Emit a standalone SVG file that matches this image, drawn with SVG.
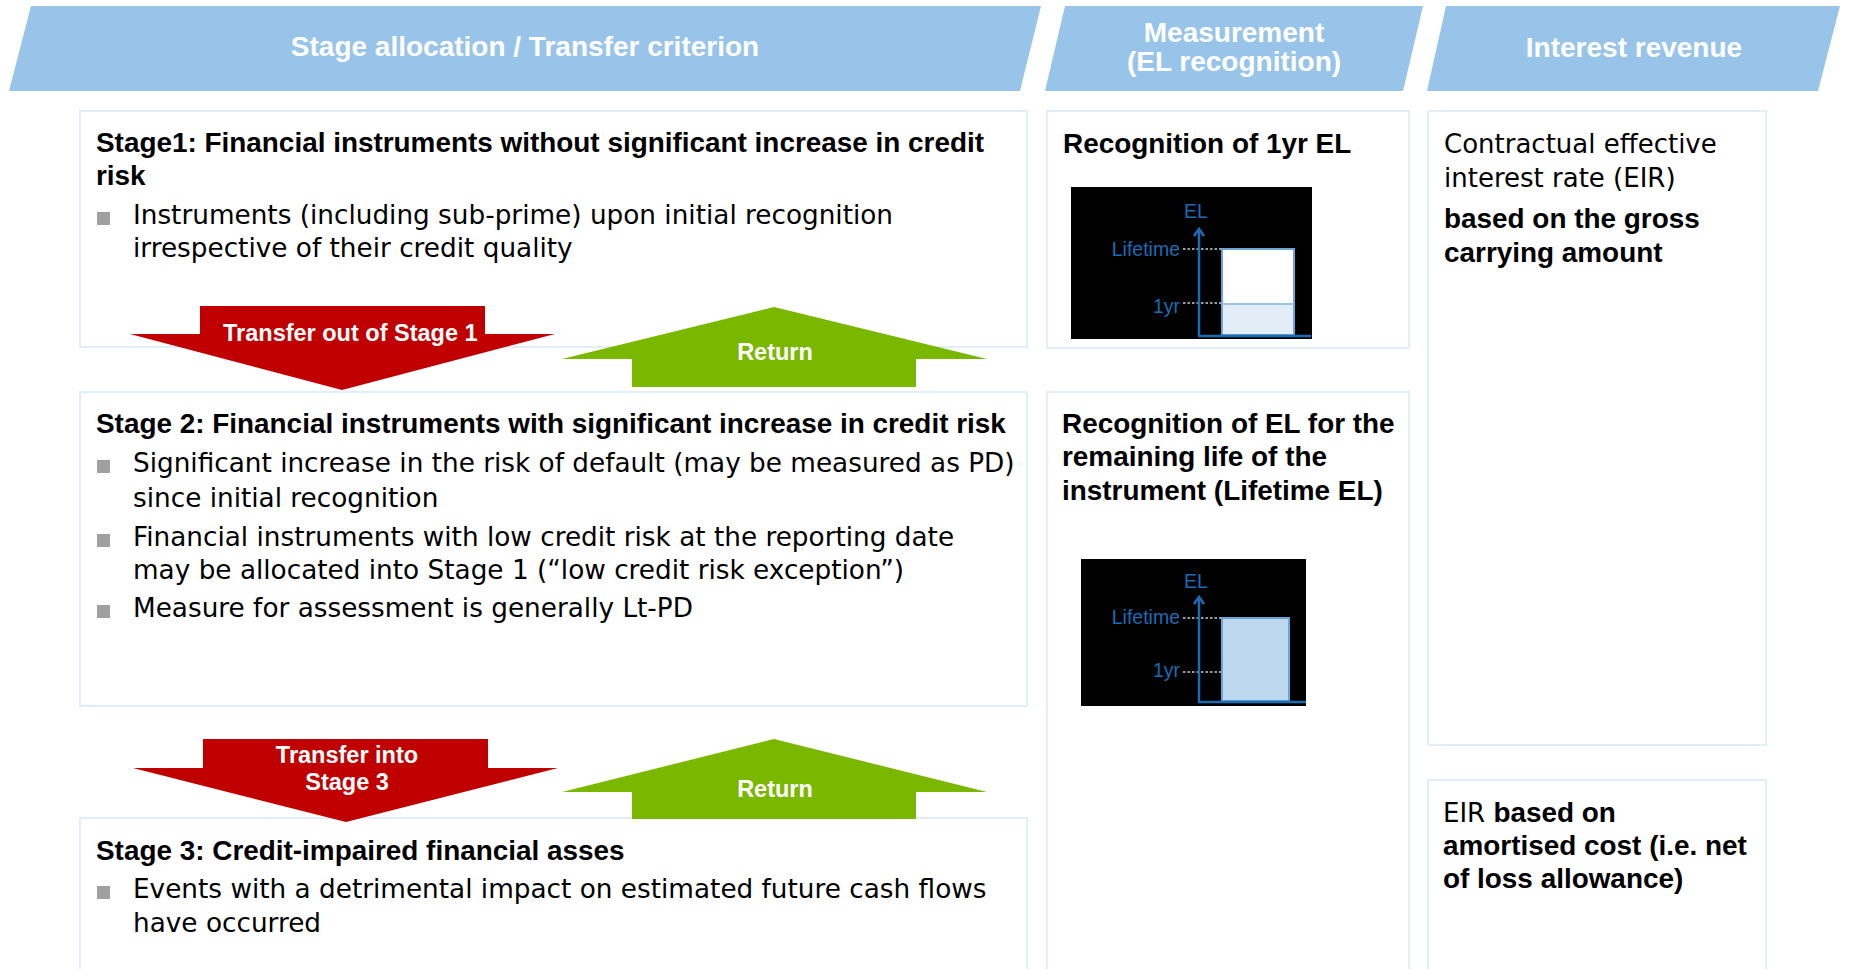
<svg xmlns="http://www.w3.org/2000/svg" width="1849" height="969" viewBox="0 0 1849 969">
<style>
.band{fill:#98C4E9}
.htxt{font-family:"Liberation Sans",Arial,sans-serif;font-weight:bold;font-size:28px;fill:#fff}
.box{fill:#fff;stroke:#E2EDF8;stroke-width:2}
.b{font-family:"Liberation Sans",Arial,sans-serif;font-weight:bold;font-size:27.9px;fill:#000}
.r{font-family:"DejaVu Sans",sans-serif;font-size:26.3px;fill:#000}
.r2{font-family:"DejaVu Sans",sans-serif;font-size:26px;fill:#000}
.bul{fill:#A0A0A0}
.red{fill:#C00000}
.green{fill:#7AB800}
.atxt{font-family:"Liberation Sans",Arial,sans-serif;font-weight:bold;font-size:23.5px;fill:#fff}
.chbg{fill:#000}
.ax{stroke:#1A6DB5;stroke-width:2.5;fill:none}
.ctxt{font-family:"Liberation Sans",Arial,sans-serif;font-size:19.5px;fill:#1A6DB5}
.dash{stroke:#C8D0D8;stroke-width:1.5;stroke-dasharray:2.5 2}
.bar{stroke:#6CA6D9;stroke-width:2}
</style>
<g id="headers">
<g id="header-stage">
<polygon class="band" points="31,6 1041,6 1020,91 9,91"/>
<text class="htxt" x="525" y="56" text-anchor="middle">Stage allocation / Transfer criterion</text>
</g>
<g id="header-measurement">
<polygon class="band" points="1065,6 1423,6 1403,91 1045,91"/>
<text class="htxt" x="1234" y="42" text-anchor="middle">Measurement</text>
<text class="htxt" x="1234" y="71" text-anchor="middle">(EL recognition)</text>
</g>
<g id="header-interest">
<polygon class="band" points="1446,6 1840,6 1818,91 1427,91"/>
<text class="htxt" x="1634" y="57" text-anchor="middle">Interest revenue</text>
</g>
</g>
<g id="stage1">
<rect class="box" x="80" y="111" width="947" height="236"/>
<text class="b" x="96" y="152">Stage1: Financial instruments without significant increase in credit</text>
<text class="b" x="96" y="185">risk</text>
<rect class="bul" x="97" y="212" width="13" height="13"/>
<text class="r" x="133" y="224">Instruments (including sub-prime) upon initial recognition</text>
<text class="r" x="133" y="257">irrespective of their credit quality</text>
</g>
<g id="stage2">
<rect class="box" x="80" y="392" width="947" height="314"/>
<text class="b" x="96" y="433">Stage 2: Financial instruments with significant increase in credit risk</text>
<rect class="bul" x="97" y="460" width="13" height="13"/>
<text class="r" x="133" y="472">Significant increase in the risk of default (may be measured as PD)</text>
<text class="r" x="133" y="507">since initial recognition</text>
<rect class="bul" x="97" y="534" width="13" height="13"/>
<text class="r" x="133" y="546">Financial instruments with low credit risk at the reporting date</text>
<text class="r" x="133" y="579">may be allocated into Stage 1 (“low credit risk exception”)</text>
<rect class="bul" x="97" y="605" width="13" height="13"/>
<text class="r" x="133" y="617">Measure for assessment is generally Lt-PD</text>
</g>
<g id="stage3">
<rect class="box" x="80" y="818" width="947" height="200"/>
<text class="b" x="96" y="860">Stage 3: Credit-impaired financial asses</text>
<rect class="bul" x="97" y="886" width="13" height="13"/>
<text class="r" x="133" y="898">Events with a detrimental impact on estimated future cash flows</text>
<text class="r" x="133" y="932">have occurred</text>
</g>
<g id="measure1">
<rect class="box" x="1047" y="111" width="362" height="237"/>
<text class="b" x="1063" y="153">Recognition of 1yr EL</text>
<rect class="chbg" x="1071" y="187" width="241" height="152"/>
<line class="dash" x1="1183" y1="249" x2="1222" y2="249"/>
<line class="dash" x1="1183" y1="303" x2="1222" y2="303"/>
<rect class="bar" x="1222" y="249" width="72" height="86" fill="#fff"/>
<rect x="1223" y="305" width="70" height="29" fill="#E3EDF7"/>
<line x1="1222" y1="304" x2="1294" y2="304" stroke="#9CC4E6" stroke-width="2"/>
<line class="ax" x1="1199" y1="230" x2="1199" y2="336"/>
<line class="ax" x1="1198" y1="336" x2="1311" y2="336"/>
<polyline class="ax" points="1194,236 1199,229 1204,236"/>
<text class="ctxt" x="1196" y="218" text-anchor="middle">EL</text>
<text class="ctxt" x="1180" y="256" text-anchor="end">Lifetime</text>
<text class="ctxt" x="1180" y="313" text-anchor="end">1yr</text>
</g>
<g id="measure2">
<rect class="box" x="1047" y="392" width="362" height="650"/>
<text class="b" x="1062" y="433">Recognition of EL for the</text>
<text class="b" x="1062" y="466">remaining life of the</text>
<text class="b" x="1062" y="500">instrument (Lifetime EL)</text>
<rect class="chbg" x="1081" y="559" width="225" height="147"/>
<line class="dash" x1="1183" y1="618" x2="1222" y2="618"/>
<line class="dash" x1="1183" y1="672" x2="1222" y2="672"/>
<rect class="bar" x="1222" y="618" width="67" height="83" fill="#BDD7EE"/>
<line class="ax" x1="1199" y1="598" x2="1199" y2="702"/>
<line class="ax" x1="1198" y1="702" x2="1306" y2="702"/>
<polyline class="ax" points="1194,604 1199,597 1204,604"/>
<text class="ctxt" x="1196" y="588" text-anchor="middle">EL</text>
<text class="ctxt" x="1180" y="624" text-anchor="end">Lifetime</text>
<text class="ctxt" x="1180" y="677" text-anchor="end">1yr</text>
</g>
<g id="interest1">
<rect class="box" x="1428" y="111" width="338" height="634"/>
<text class="r2" x="1444" y="153">Contractual effective</text>
<text class="r2" x="1444" y="187">interest rate (EIR)</text>
<text class="b" x="1444" y="228">based on the gross</text>
<text class="b" x="1444" y="262">carrying amount</text>
</g>
<g id="interest2">
<rect class="box" x="1428" y="780" width="338" height="250"/>
<text x="1443" y="822"><tspan class="r2">EIR </tspan><tspan class="b">based on</tspan></text>
<text class="b" x="1443" y="855">amortised cost (i.e. net</text>
<text class="b" x="1443" y="888">of loss allowance)</text>
</g>
<g id="connectors">
<g id="transfer-out-stage1">
<polygon class="red" points="200,306 485,306 485,334 555,334 342,390 130,334 200,334"/>
<text class="atxt" x="223" y="341">Transfer out of Stage 1</text>
</g>
<g id="return1">
<polygon class="green" points="774,307 987,359 916,359 916,387 632,387 632,359 562,359"/>
<text class="atxt" x="775" y="360" text-anchor="middle">Return</text>
</g>
<g id="transfer-into-stage3">
<polygon class="red" points="203,739 488,739 488,768 558,768 346,822 133,768 203,768"/>
<text class="atxt" x="347" y="763" text-anchor="middle">Transfer into</text>
<text class="atxt" x="347" y="790" text-anchor="middle">Stage 3</text>
</g>
<g id="return2">
<polygon class="green" points="774,739 987,792 916,792 916,819 632,819 632,792 562,792"/>
<text class="atxt" x="775" y="797" text-anchor="middle">Return</text>
</g>
</g>
</svg>
